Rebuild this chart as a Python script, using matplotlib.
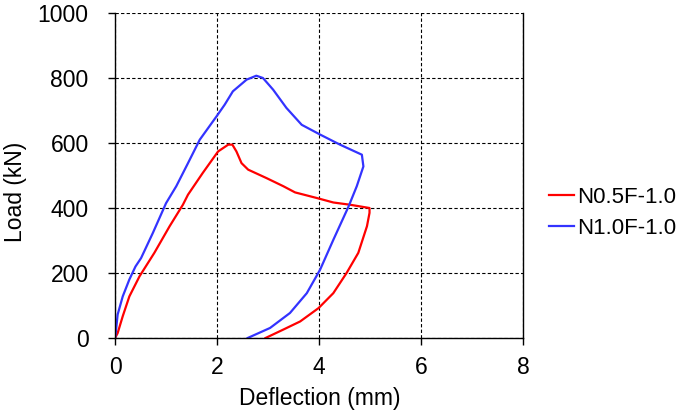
import numpy as np
import matplotlib.pyplot as plt

plt.rcParams['font.family'] = ['Liberation Sans', 'DejaVu Sans']

# N0.5F-1.0 (red)
red_x = [0.0, 0.05, 0.15, 0.28, 0.48, 0.77, 1.07, 1.33, 1.43, 1.72, 2.02, 2.22, 2.30,
         2.38, 2.48, 2.61, 2.97, 3.30, 3.53, 3.95, 4.28, 4.61, 4.99, 4.99, 4.94, 4.77,
         4.54, 4.28, 3.99, 3.63, 3.30, 2.95]
red_y = [0, 15, 67, 128, 190, 262, 344, 410, 441, 508, 574, 595, 595,
         574, 538, 518, 492, 467, 448, 431, 417, 410, 400, 385, 344, 262,
         200, 138, 92, 51, 26, 0]

# N1.0F-1.0 (blue)
blue_x = [0.0, 0.02, 0.05, 0.15, 0.28, 0.40, 0.51, 0.74, 1.0, 1.2, 1.43, 1.66, 1.99,
          2.15, 2.31, 2.58, 2.77, 2.9, 3.1, 3.36, 3.66, 4.02, 4.41, 4.84, 4.87, 4.74,
          4.58, 4.28, 4.02, 3.76, 3.43, 3.04, 2.6]
blue_y = [0, 26, 72, 128, 180, 220, 246, 323, 415, 467, 538, 610, 682,
          718, 759, 795, 807, 800, 764, 708, 656, 626, 595, 564, 528, 467,
          405, 302, 210, 138, 77, 31, 0]

fig = plt.figure(figsize=(6.85, 4.15), dpi=100)
ax = fig.add_axes([0.168, 0.1855, 0.5955, 0.7832])

ax.plot(red_x, red_y, color='#ff0000', lw=1.6, label='N0.5F-1.0')
ax.plot(blue_x, blue_y, color='#3333ff', lw=1.6, label='N1.0F-1.0')

ax.set_xlim(0, 8)
ax.set_ylim(0, 1000)
ax.set_xticks(np.arange(0, 9, 2))
ax.set_yticks(np.arange(0, 1001, 200))
ax.grid(True, color='black', linestyle=(0, (3, 2)), lw=0.8)
ax.set_axisbelow(True)
ax.spines['top'].set_visible(False)
for s in ['left', 'bottom', 'right']:
    ax.spines[s].set_color('black')
    ax.spines[s].set_linewidth(1.0)
ax.tick_params(direction='out', length=5, width=1, labelsize=16.5, colors='black')
ax.tick_params(axis='y', pad=14)
ax.tick_params(axis='x', pad=8)

ax.set_xlabel('Deflection (mm)', fontsize=16.5)
ax.set_ylabel('Load (kN)', fontsize=16.5)
ax.xaxis.set_label_coords(0.501, -0.152)
ax.yaxis.set_label_coords(-0.215, 0.449)

ax.legend(loc='center left', bbox_to_anchor=(1.064, 0.385), frameon=False,
          fontsize=16, handlelength=1.1, handletextpad=0.15, labelspacing=0.45,
          borderaxespad=0, borderpad=0)

fig.savefig('out.png', dpi=100)
